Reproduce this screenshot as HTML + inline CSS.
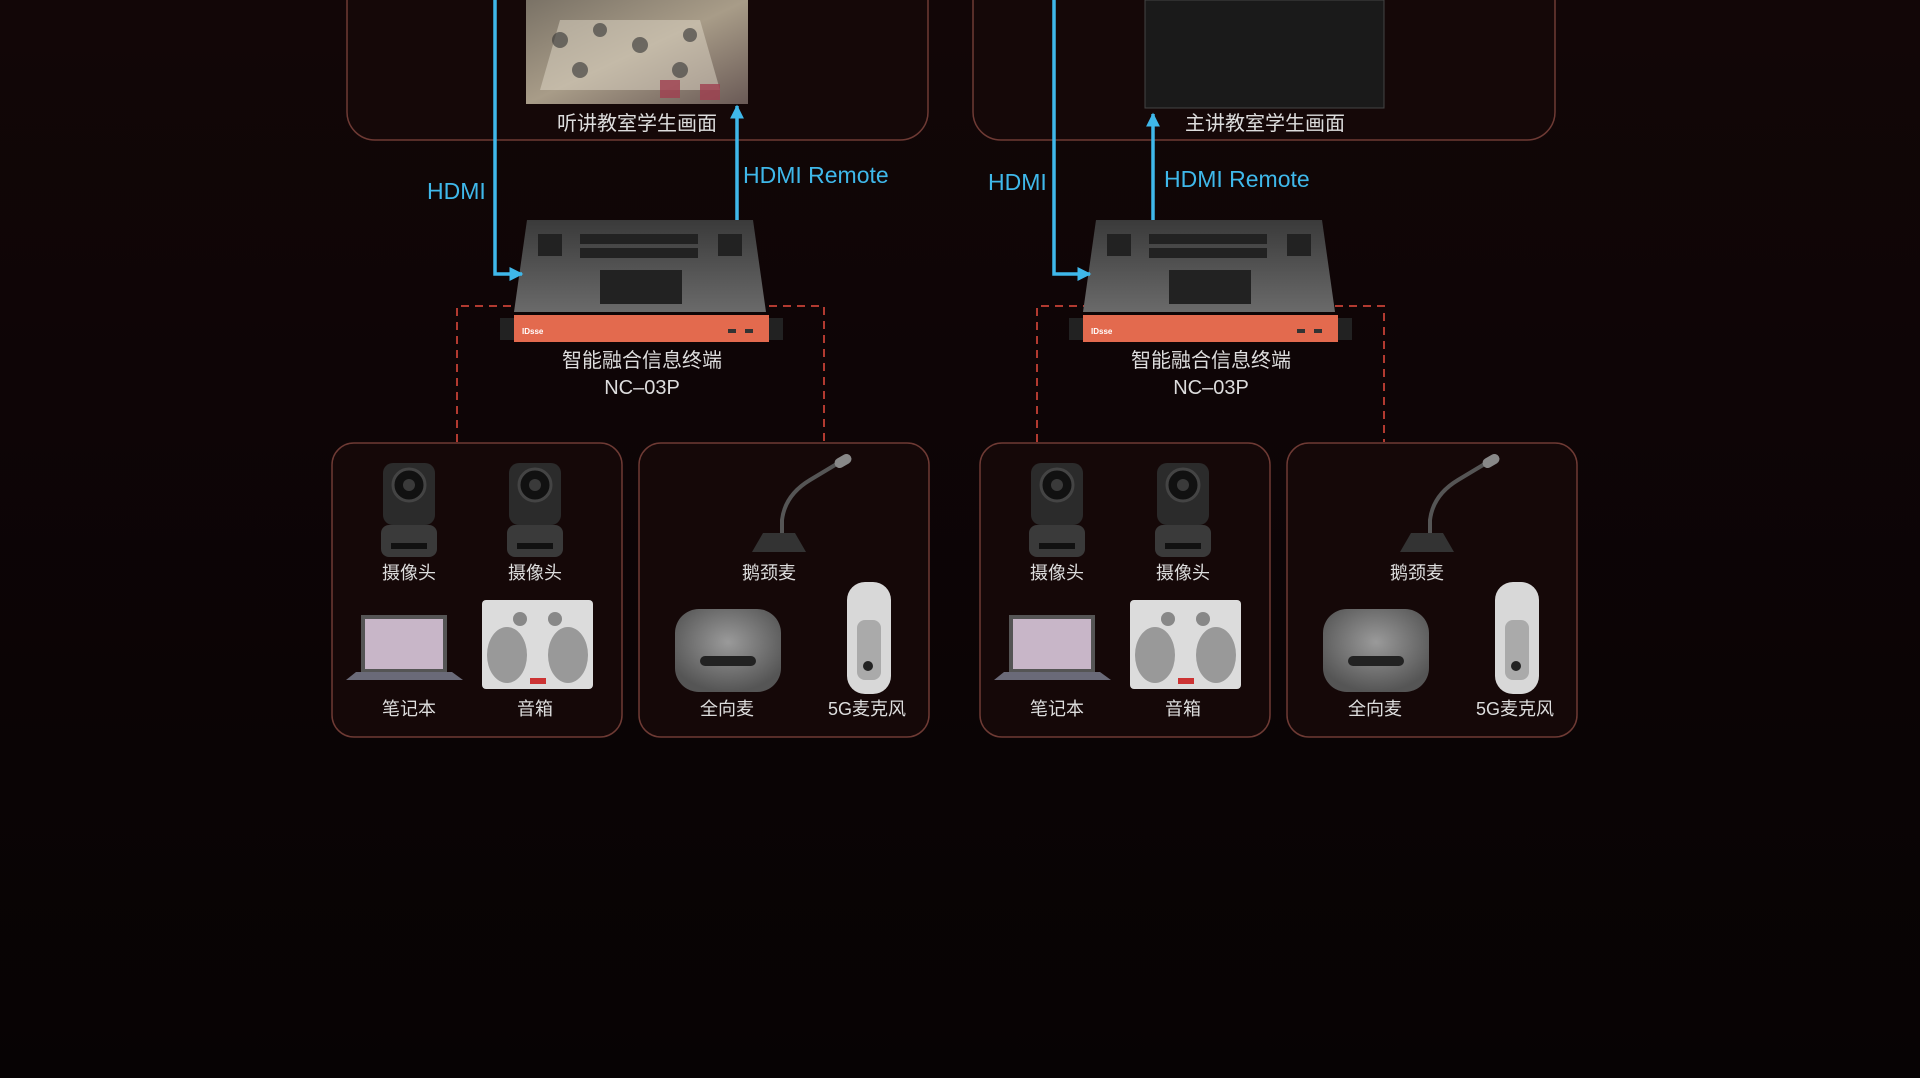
<!DOCTYPE html>
<html><head><meta charset="utf-8"><style>
html,body{margin:0;padding:0;background:#0a0405}
body{width:1920px;height:1078px;overflow:hidden}
svg{display:block}
text{font-family:"Liberation Sans","Noto Sans CJK SC",sans-serif}
</style></head><body>
<svg width="1920" height="1078" viewBox="0 0 1920 1078" xmlns="http://www.w3.org/2000/svg">
<defs>
<linearGradient id="bg" x1="0" y1="0" x2="0" y2="1"><stop offset="0" stop-color="#120607"/><stop offset="1" stop-color="#070304"/></linearGradient>
<linearGradient id="top" x1="0" y1="0" x2="0" y2="1"><stop offset="0" stop-color="#3a3a3a"/><stop offset="1" stop-color="#6a6a6a"/></linearGradient>
<linearGradient id="photo" x1="0" y1="0" x2="1" y2="1"><stop offset="0" stop-color="#7a7266"/><stop offset="0.5" stop-color="#a89c88"/><stop offset="1" stop-color="#6a5a56"/></linearGradient>
<radialGradient id="mic" cx="0.5" cy="0.4" r="0.6"><stop offset="0" stop-color="#9a9a9a"/><stop offset="1" stop-color="#555"/></radialGradient>
<marker id="ar" viewBox="0 0 10 10" refX="9" refY="5" markerWidth="4" markerHeight="4" orient="auto"><path d="M0,0L10,5L0,10z" fill="#3fb8ea"/></marker>
<g id="dev">
 <polygon points="527,220 753,220 766,312 514,312" fill="url(#top)"/>
 <g fill="#222"><rect x="538" y="234" width="24" height="22"/><rect x="580" y="234" width="118" height="10"/><rect x="580" y="248" width="118" height="10"/><rect x="718" y="234" width="24" height="22"/><rect x="600" y="270" width="82" height="34"/></g>
 <rect x="500" y="318" width="14" height="22" fill="#222"/><rect x="769" y="318" width="14" height="22" fill="#222"/>
 <rect x="514" y="315" width="255" height="27" fill="#e36a4e"/>
 <text x="522" y="334" font-size="8" fill="#fff" font-weight="bold">IDsse</text>
 <rect x="728" y="329" width="8" height="4" fill="#333"/><rect x="745" y="329" width="8" height="4" fill="#333"/>
</g>
<g id="cam">
 <rect x="-26" y="0" width="52" height="62" rx="10" fill="#2b2b2b"/>
 <circle cx="0" cy="22" r="16" fill="#111" stroke="#444" stroke-width="3"/><circle cx="0" cy="22" r="6" fill="#3a3a3a"/>
 <rect x="-28" y="62" width="56" height="32" rx="8" fill="#3a3a3a"/><rect x="-18" y="80" width="36" height="6" fill="#111"/>
</g>
<g id="left">
 <use href="#cam" x="409" y="463"/><use href="#cam" x="535" y="463"/>
 <polygon points="361,615 447,615 447,672 361,672" fill="#555"/><rect x="365" y="619" width="78" height="50" fill="#c8b6c8"/>
 <polygon points="346,680 463,680 452,672 356,672" fill="#6a6a78"/>
 <rect x="482" y="600" width="111" height="89" rx="4" fill="#dcdcdc"/>
 <ellipse cx="507" cy="655" rx="20" ry="28" fill="#999"/><ellipse cx="568" cy="655" rx="20" ry="28" fill="#999"/>
 <circle cx="520" cy="619" r="7" fill="#888"/><circle cx="555" cy="619" r="7" fill="#888"/>
 <rect x="530" y="678" width="16" height="6" fill="#c33"/>
 <g font-size="18" fill="#ddd" text-anchor="middle"><text x="409" y="579">摄像头</text><text x="535" y="579">摄像头</text><text x="409" y="715">笔记本</text><text x="535" y="715">音箱</text></g>
</g>
<g id="right">
 <path d="M782,537 L782,520 Q785,495 810,480 L840,462" stroke="#555" stroke-width="4" fill="none"/>
 <rect x="834" y="456" width="18" height="10" rx="5" fill="#888" transform="rotate(-30 843 461)"/>
 <polygon points="763,533 795,533 806,552 752,552" fill="#333"/>
 <rect x="675" y="609" width="106" height="83" rx="24" fill="url(#mic)"/>
 <rect x="700" y="656" width="56" height="10" rx="5" fill="#222"/>
 <rect x="847" y="582" width="44" height="112" rx="18" fill="#d8d8d8"/><rect x="857" y="620" width="24" height="60" rx="8" fill="#aaa"/><circle cx="868" cy="666" r="5" fill="#222"/>
 <g font-size="18" fill="#ddd" text-anchor="middle"><text x="769" y="579">鹅颈麦</text><text x="727" y="715">全向麦</text><text x="867" y="715">5G麦克风</text></g>
</g>
</defs>
<rect width="1920" height="1078" fill="url(#bg)"/>
<rect x="347" y="-40" width="581" height="180" rx="28" fill="#150808" stroke="#6e3a34" stroke-width="1.5"/>
<rect x="973" y="-40" width="582" height="180" rx="28" fill="#150808" stroke="#6e3a34" stroke-width="1.5"/>
<rect x="526" y="0" width="222" height="104" fill="url(#photo)"/>
<g fill="#e0d8c8" opacity="0.5"><polygon points="560,20 700,20 720,90 540,90"/></g>
<g fill="#333" opacity="0.6"><circle cx="560" cy="40" r="8"/><circle cx="600" cy="30" r="7"/><circle cx="640" cy="45" r="8"/><circle cx="690" cy="35" r="7"/><circle cx="580" cy="70" r="8"/><circle cx="680" cy="70" r="8"/></g>
<g fill="#a04050" opacity="0.8"><rect x="660" y="80" width="20" height="18"/><rect x="700" y="84" width="20" height="16"/></g>
<rect x="1145" y="0" width="239" height="108" fill="#1a1a1a" stroke="#444"/>
<g font-size="20" fill="#ddd" text-anchor="middle"><text x="637" y="130">听讲教室学生画面</text><text x="1265" y="130">主讲教室学生画面</text></g>
<g fill="none" stroke="#b23a30" stroke-width="2" stroke-dasharray="8,6">
<path d="M457,442 V306 H824 V442"/><path d="M1037,442 V306 H1384 V442"/></g>
<use href="#dev"/><use href="#dev" x="569"/>
<g font-size="20" fill="#ddd" text-anchor="middle"><text x="642" y="367">智能融合信息终端</text><text x="642" y="394">NC–03P</text><text x="1211" y="367">智能融合信息终端</text><text x="1211" y="394">NC–03P</text></g>
<g stroke="#3fb8ea" stroke-width="3.5" fill="none" marker-end="url(#ar)">
<path d="M495,0 V274 H522"/><path d="M737,220 V106"/>
<path d="M1054,0 V274 H1090"/><path d="M1153,220 V114"/></g>
<g font-size="23" fill="#3fb8ea"><text x="427" y="199">HDMI</text><text x="743" y="183">HDMI Remote</text><text x="988" y="190">HDMI</text><text x="1164" y="187">HDMI Remote</text></g>
<g fill="#150808" stroke="#6e3a34" stroke-width="1.5">
<rect x="332" y="443" width="290" height="294" rx="22"/><rect x="639" y="443" width="290" height="294" rx="22"/>
<rect x="980" y="443" width="290" height="294" rx="22"/><rect x="1287" y="443" width="290" height="294" rx="22"/></g>
<use href="#left"/><use href="#right"/><use href="#left" x="648"/><use href="#right" x="648"/>
</svg>
</body></html>
